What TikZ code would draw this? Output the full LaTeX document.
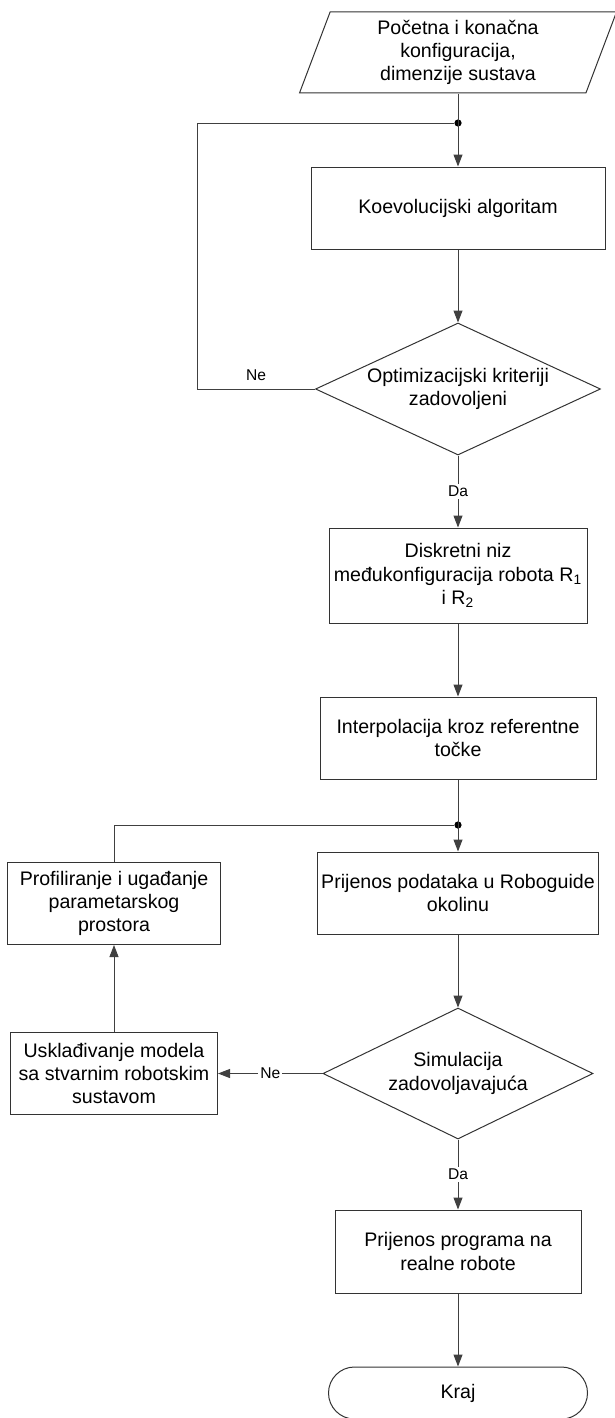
\documentclass[tikz,border=0pt]{standalone}
\usepackage{fontspec}
\setmainfont{Liberation Sans}
\usepackage{tikz}
\usetikzlibrary{shapes.geometric, arrows.meta, positioning}
\tikzset{
    inout/.style={trapezium, trapezium left angle=66, trapezium right angle=114, trapezium stretches body, minimum height=40.5pt, align=center, draw=black!80, inner sep=1pt},
    process/.style={rectangle, minimum height=41pt, align=center, draw=black!80, inner sep=1pt},
    decision/.style={diamond, aspect=2.15, align=center, draw=black!80, inner sep=0pt},
    startstop/.style={rectangle, rounded corners=13pt, minimum height=26pt, align=center, draw=black!80},
    arrow/.style={-{Triangle[length=6pt,width=4.5pt]}},
    answer/.style={font=\fontsize{7.8}{9}\selectfont, inner sep=1pt},
    junction/.style={circle, fill=black, inner sep=0pt, minimum size=3.6pt}
}

\begin{document}
\begin{tikzpicture}[x=0.5pt, y=-0.5pt, node distance=85pt, line width=0.5pt, draw=black!75, font=\fontsize{9.8}{11.6}\selectfont]
    \useasboundingbox (0,0) rectangle (615,1418);
    \node (in) [inout, minimum width=158.5pt] at (458,52.5) {Početna i konačna\\konfiguracija,\\dimenzije sustava};
    \node (koe) [process, minimum width=147pt, below of=in, yshift=7.25pt] {Koevolucijski algoritam};
    \node (opt) [decision, minimum width=142.5pt, minimum height=66pt, below of=koe, yshift=-5.5pt] {Optimizacijski kriteriji\\zadovoljeni};
    \node (disk) [process, minimum width=129pt, minimum height=47.5pt, below of=opt, yshift=-8.25pt] {Diskretni niz\\međukonfiguracija robota R\textsubscript{1}\\i R\textsubscript{2}};
    \node (interp) [process, minimum width=138pt, below of=disk, yshift=3.75pt] {Interpolacija kroz referentne\\točke};
    \node (pod) [process, minimum width=140.5pt, below of=interp, yshift=7.5pt] {Prijenos podataka u Roboguide\\okolinu};
    \node (sim) [decision, minimum width=135pt, minimum height=65.5pt, below of=pod, yshift=-5.25pt] {Simulacija\\zadovoljavajuća};
    \node (prog) [process, minimum width=123pt, minimum height=41.5pt, below of=sim, yshift=-4pt] {Prijenos programa na\\realne robote};
    \node (kraj) [startstop, minimum width=129.5pt, below of=prog, yshift=14.25pt] {Kraj};
    \node (prof) [process, minimum width=106.5pt, left of=pod, node distance=172pt, yshift=-5.25pt] {Profiliranje i ugađanje\\parametarskog\\prostora};
    \node (usk) [process, minimum width=103.5pt, below of=prof] {Usklađivanje modela\\sa stvarnim robotskim\\sustavom};
    \node (dot1) [junction, below=12.7pt of in.south] {};
    \node (dot2) [junction, below=20.7pt of interp.south] {};

    \draw [arrow] (in) -- (koe);
    \draw [arrow] (koe) -- (opt);
    \draw (opt.west) -- node[answer, above, inner sep=4pt] {Ne} ++(-118,0) |- (dot1);
    \draw [arrow] (opt) -- node[answer, fill=white] {Da} (disk);
    \draw [arrow] (disk) -- (interp);
    \draw [arrow] (interp) -- (pod);
    \draw [arrow] (pod) -- (sim);
    \draw [arrow] (sim) -- node[answer, fill=white] {Da} (prog);
    \draw [arrow] (prog) -- (kraj);
    \draw [arrow] (sim.west) -- node[answer, fill=white] {Ne} (usk.east);
    \draw [arrow] (usk) -- (prof);
    \draw (prof.north) |- (dot2);
\end{tikzpicture}
\end{document}
